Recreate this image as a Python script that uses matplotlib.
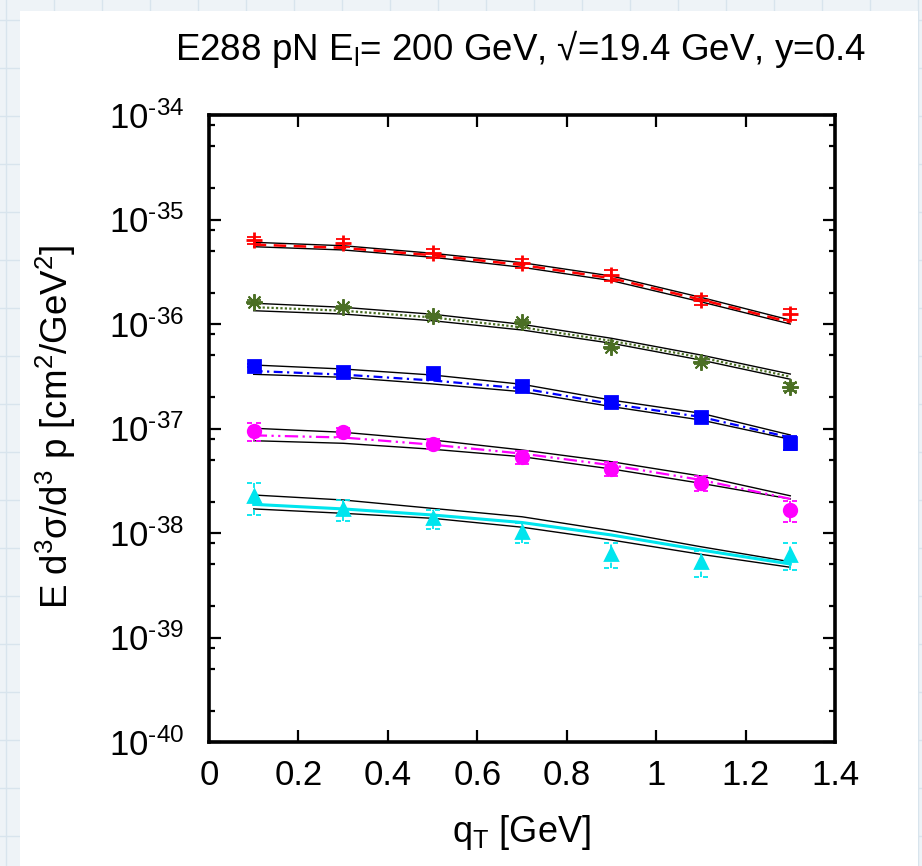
import matplotlib
matplotlib.use("Agg")
import matplotlib.pyplot as plt
from matplotlib.lines import Line2D
from matplotlib.patches import Rectangle
from matplotlib.path import Path
from matplotlib.mathtext import MathTextParser
from matplotlib.ticker import FixedLocator, LogLocator, NullFormatter

plt.rcParams['font.family'] = ['Liberation Sans', 'DejaVu Sans']
plt.rcParams['mathtext.fontset'] = 'custom'
plt.rcParams['mathtext.rm'] = 'Liberation Sans'
plt.rcParams['mathtext.it'] = 'Liberation Sans:italic'
plt.rcParams['mathtext.bf'] = 'Liberation Sans:bold'
plt.rcParams['mathtext.sf'] = 'Liberation Sans'

# q_T bins [GeV]
qt = [0.1, 0.3, 0.5, 0.7, 0.9, 1.1, 1.3]

# data points and errors, one set per mass bin (top to bottom)
red_data = [6.37e-36, 5.96e-36, 4.75e-36, 3.81e-36, 2.94e-36, 1.70e-36, 1.25e-36]
red_err = [0.50e-36, 0.50e-36, 0.45e-36, 0.37e-36, 0.35e-36, 0.17e-36, 0.15e-36]
green_data = [1.63e-36, 1.445e-36, 1.19e-36, 1.05e-36, 6.07e-37, 4.36e-37, 2.51e-37]
green_err = [0.06e-36, 0.05e-36, 0.05e-36, 0.05e-36, 0.3e-37, 0.25e-37, 0.2e-37]
blue_data = [3.99e-37, 3.45e-37, 3.375e-37, 2.57e-37, 1.805e-37, 1.297e-37, 7.31e-38]
blue_err = [0.15e-37, 0.13e-37, 0.13e-37, 0.10e-37, 0.08e-37, 0.06e-37, 1.15e-38]
mag_data = [9.5e-38, 9.2e-38, 7.11e-38, 5.33e-38, 4.13e-38, 3.03e-38, 1.66e-38]
mag_err = [1.86e-38, 0.9e-38, 0.78e-38, 0.72e-38, 0.6e-38, 0.51e-38, 0.38e-38]
cyan_data = [2.27e-38, 1.69e-38, 1.38e-38, 1.02e-38, 6.3e-39, 5.3e-39, 6.2e-39]
cyan_err = [0.77e-38, 0.38e-38, 0.28e-38, 0.22e-38, 1.65e-39, 1.5e-39, 1.77e-39]

# theory: central curve and upper/lower band
red_fit = [5.75e-36, 5.35e-36, 4.55e-36, 3.67e-36, 2.74e-36, 1.71e-36, 1.04e-36]
red_hi = [6.05e-36, 5.61e-36, 4.75e-36, 3.86e-36, 2.88e-36, 1.80e-36, 1.09e-36]
red_lo = [5.49e-36, 5.11e-36, 4.35e-36, 3.49e-36, 2.60e-36, 1.63e-36, 1.00e-36]
green_fit = [1.45e-36, 1.34e-36, 1.155e-36, 9.3e-37, 6.9e-37, 4.78e-37, 3.13e-37]
green_hi = [1.58e-36, 1.445e-36, 1.24e-36, 9.93e-37, 7.30e-37, 5.05e-37, 3.32e-37]
green_lo = [1.34e-36, 1.245e-36, 1.075e-36, 8.76e-37, 6.54e-37, 4.52e-37, 2.96e-37]
blue_fit = [3.55e-37, 3.28e-37, 2.88e-37, 2.42e-37, 1.72e-37, 1.29e-37, 8.2e-38]
blue_hi = [4.05e-37, 3.71e-37, 3.25e-37, 2.65e-37, 1.87e-37, 1.40e-37, 8.67e-38]
blue_lo = [3.30e-37, 3.09e-37, 2.67e-37, 2.25e-37, 1.62e-37, 1.206e-37, 7.88e-38]
mag_fit = [8.6e-38, 8.2e-38, 7.0e-38, 5.75e-38, 4.45e-38, 3.22e-38, 2.12e-38]
mag_hi = [1.005e-37, 9.20e-38, 7.76e-38, 6.23e-38, 4.81e-38, 3.51e-38, 2.27e-38]
mag_lo = [7.64e-38, 7.22e-38, 6.33e-38, 5.37e-38, 4.10e-38, 2.99e-38, 2.12e-38]
cyan_fit = [1.88e-38, 1.70e-38, 1.487e-38, 1.26e-38, 9.57e-39, 6.88e-39, 5.05e-39]
cyan_hi = [2.31e-38, 2.07e-38, 1.72e-38, 1.43e-38, 1.052e-38, 7.39e-39, 5.31e-39]
cyan_lo = [1.70e-38, 1.543e-38, 1.382e-38, 1.136e-38, 8.57e-39, 6.25e-39, 4.70e-39]

x_ticks = [0, 0.2, 0.4, 0.6, 0.8, 1.0, 1.2, 1.4]
x_labels = ["0", "0.2", "0.4", "0.6", "0.8", "1", "1.2", "1.4"]
y_exps = [-40, -39, -38, -37, -36, -35, -34]

# gnuplot prints a plain hyphen in the exponent; fall back to minus if \text is unsupported
def exp_label(e):
    s = r'$\mathregular{10^{\text{-}%d}}$' % abs(e)
    try:
        MathTextParser('agg').parse(s, 72, matplotlib.font_manager.FontProperties(size=12))
        return s
    except Exception:
        return r'$\mathregular{10^{%d}}$' % e


W, H = 922, 866
fig = plt.figure(figsize=(W / 100, H / 100), dpi=100, facecolor='#eef3f7')
# grid-paper background behind the white panel
for gx in range(6, W, 48):
    fig.add_artist(Line2D([gx / W, gx / W], [0, 1], color='#d8e4ed', lw=1, zorder=-3))
for gy in range(20, H, 48):
    fig.add_artist(Line2D([0, 1], [1 - gy / H, 1 - gy / H], color='#d8e4ed', lw=1, zorder=-3))
fig.add_artist(Rectangle((20 / W, 0), 898 / W, 855 / H, facecolor='white',
                         edgecolor='none', zorder=-2))

ax = fig.add_axes([209 / W, 1 - 742 / H, 626 / W, 627 / H])
ax.set_yscale('log')
ax.set_xlim(0, 1.4)
ax.set_ylim(1e-40, 1e-34)

dashed_cap = Path([(-1, 0), (-0.3, 0), (0.3, 0), (1, 0)],
                  [Path.MOVETO, Path.LINETO, Path.MOVETO, Path.LINETO])


def draw(vals, errs, fit, hi, lo, color, marker, ms, mew, fit_kw, dashed_bars=False):
    ax.plot(qt, hi, color='black', lw=1.0, zorder=2)
    ax.plot(qt, lo, color='black', lw=1.0, zorder=2)
    ax.plot(qt, fit, color=color, zorder=3, **fit_kw)
    eb = ax.errorbar(qt, vals, yerr=errs, fmt='none', ecolor=color,
                     elinewidth=1.3, capsize=5, capthick=1.3, zorder=4)
    if dashed_bars:
        eb[2][0].set_linestyle((0, (3, 2)))
        for cap in eb[1]:
            cap.set_marker(dashed_cap)
            cap.set_markersize(10)
    ax.plot(qt, vals, linestyle='none', marker=marker, ms=ms, color=color,
            mec=color, mew=mew, zorder=5)


draw(red_data, red_err, red_fit, red_hi, red_lo, '#ff0000', '+', 11, 2,
     dict(lw=1.8, dashes=(5, 3)))
draw(green_data, green_err, green_fit, green_hi, green_lo, '#4b6f24', (8, 2, 0), 12, 1.4,
     dict(lw=1.6, dashes=(1, 1)))
draw(blue_data, blue_err, blue_fit, blue_hi, blue_lo, '#0000ff', 's', 9, 2,
     dict(lw=1.6, dashes=(4, 2, 1, 2)))
draw(mag_data, mag_err, mag_fit, mag_hi, mag_lo, '#ff00ff', 'o', 9, 2,
     dict(lw=1.6, dashes=(6, 2, 1, 2, 1, 2)), dashed_bars=True)
draw(cyan_data, cyan_err, cyan_fit, cyan_hi, cyan_lo, '#00e5ee', '^', 9, 2,
     dict(lw=2.2), dashed_bars=True)

ax.xaxis.set_major_locator(FixedLocator(x_ticks))
ax.set_xticklabels(x_labels)
ax.yaxis.set_major_locator(FixedLocator([10.0 ** e for e in y_exps]))
ax.set_yticklabels([exp_label(e) for e in y_exps])
ax.yaxis.set_minor_locator(LogLocator(base=10, subs=(2, 5, 8), numticks=20))
ax.yaxis.set_minor_formatter(NullFormatter())
ax.xaxis.set_minor_locator(FixedLocator([]))

ax.tick_params(which='both', direction='in', top=True, right=True, width=1.6,
               labelsize=25)
ax.tick_params(which='major', length=8.5)
ax.tick_params(which='minor', length=4.3)
ax.tick_params(axis='x', pad=12)
ax.tick_params(axis='y', pad=18)
for sp in ax.spines.values():
    sp.set_linewidth(2.6)

fig.text(521 / W, 1 - 60 / H, r'E288 pN E$_\mathregular{l}$= 200 GeV, √=19.4 GeV, y=0.4',
         ha='center', va='baseline', fontsize=26.5)
fig.text(521 / W, 1 - 833 / H, r'q$_\mathregular{T}$ [GeV]', ha='center', va='center',
         fontsize=26)
fig.text(56 / W, 1 - 427 / H, r'E d$^\mathregular{3}$σ/d$^\mathregular{3}$ p [cm$^\mathregular{2}$/GeV$^\mathregular{2}$]',
         ha='center', va='center', rotation=90, fontsize=26.5)

fig.savefig('out.png', dpi=100, facecolor=fig.get_facecolor())
